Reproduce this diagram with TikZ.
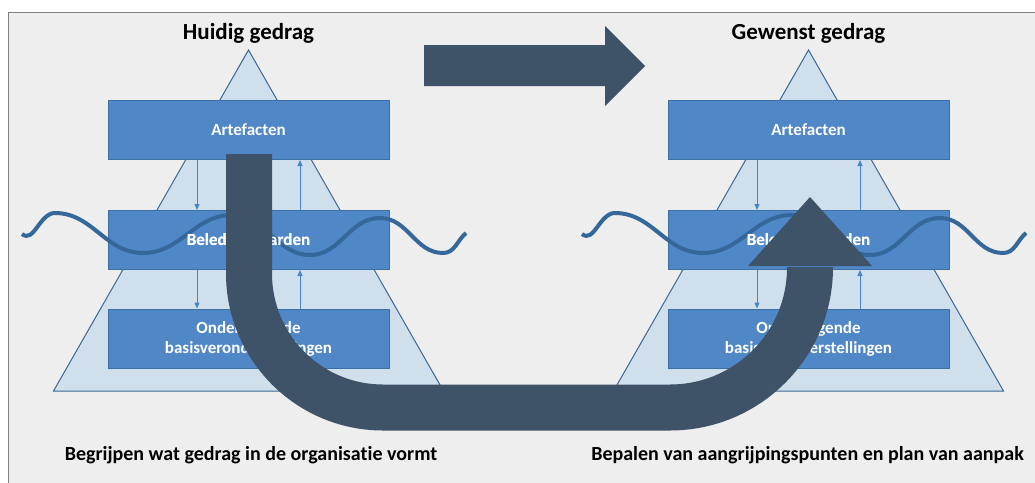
\documentclass[tikz,border=0pt]{standalone}
\usepackage{fontspec}
\setmainfont{Carlito}[Ligatures=NoCommon]
\usetikzlibrary{arrows.meta}
\definecolor{bgc}{HTML}{EEEEEE}
\definecolor{framec}{HTML}{808080}
\definecolor{boxfill}{HTML}{4F87C7}
\definecolor{boxline}{HTML}{3C6FA6}
\definecolor{trifill}{HTML}{D0DFEC}
\definecolor{triline}{HTML}{3C6896}
\definecolor{wavec}{HTML}{35679A}
\definecolor{arrowc}{HTML}{3E5268}
\definecolor{sarrowc}{HTML}{4A84C4}
\tikzset{
  boxnode/.style={draw=boxline, fill=boxfill, line width=1pt, minimum width=281pt, minimum height=59pt, inner sep=0pt, text=white, align=center, font=\bfseries\fontsize{17}{20}\selectfont},
  tri/.style={draw=triline, fill=trifill, line width=1pt, line join=miter},
  sarrow/.style={draw=sarrowc, line width=1pt, -{Triangle[length=6pt,width=5pt]}},
  wave/.style={draw=wavec, line width=4pt},
  bigshaft/.style={draw=arrowc, line width=46pt},
  bighead/.style={fill=arrowc},
  titletext/.style={font=\bfseries\fontsize{23}{26}\selectfont, anchor=base},
  bottomtext/.style={font=\bfseries\fontsize{20}{24}\selectfont, anchor=base},
}
\begin{document}
\begin{tikzpicture}[x=1pt,y=-1pt]
\useasboundingbox (0,0) rectangle (1035,482);
\clip (0,0) rectangle (1035,482);
\fill[white] (0,0) rectangle (1035,482);
\draw[fill=bgc, draw=framec, line width=1.5pt] (8.5,12.5) rectangle (1045,495);

% pyramids
\foreach \dx/\n in {0/L, 560/R} {
  \begin{scope}[xshift=\dx pt]
    \draw[tri] (248.5,50) -- (443.5,391) -- (53.5,391) -- cycle;
    \node[boxnode] (art\n) at (248.5,130) {Artefacten};
    \node[boxnode] (bel\n) at (248.5,240) {Beleden waarden};
    \node[boxnode] (ond\n) at (248.5,338.5) {Onderliggende\\basisveronderstellingen};
    \draw[sarrow] ([xshift=-51.5pt]art\n.south) -- ([xshift=-51.5pt]bel\n.north);
    \draw[sarrow] ([xshift=51.5pt]bel\n.north) -- ([xshift=51.5pt]art\n.south);
    \draw[sarrow] ([xshift=-51.5pt]bel\n.south) -- ([xshift=-51.5pt]ond\n.north);
    \draw[sarrow] ([xshift=51.5pt]ond\n.north) -- ([xshift=51.5pt]bel\n.south);
    \draw[wave] (22,234) to[out=-40,in=180] (55,213) to[out=0,in=180] (143,253)
      to[out=0,in=180] (232,215) to[out=0,in=180] (310,255) to[out=0,in=180] (380,218)
      to[out=0,in=180] (443,253) to[out=0,in=220] (466,233);
    \node[boxnode, draw=none, fill=none] at (248.5,240) {Beleden waarden};
  \end{scope}
}

% titles
\node[titletext] (t1) at (248.5,39) {Huidig gedrag};
\node[titletext] (t2) at (808.5,39) {Gewenst gedrag};

% bottom texts
\node[bottomtext] (b1) at (251,460) {Begrijpen wat gedrag in de organisatie vormt};
\node[bottomtext] (b2) at (807.5,460) {Bepalen van aangrijpingspunten en plan van aanpak};

% top arrow
\fill[arrowc] (424,45) -- (605,45) -- (605,26) -- (645,66) -- (605,106) -- (605,86) -- (424,86) -- cycle;

% U arrow
\coordinate (us) at (249,154);
\coordinate (ue) at (810,267);
\draw[bigshaft] (us) -- (249,273.5) arc[start angle=180, end angle=90, radius=134]
   -- (670,407.5) arc[start angle=90, end angle=0, radius=140] -- (ue);
\fill[bighead] (748,266) -- (872,266) -- (810,197) -- cycle;
\end{tikzpicture}
\end{document}
